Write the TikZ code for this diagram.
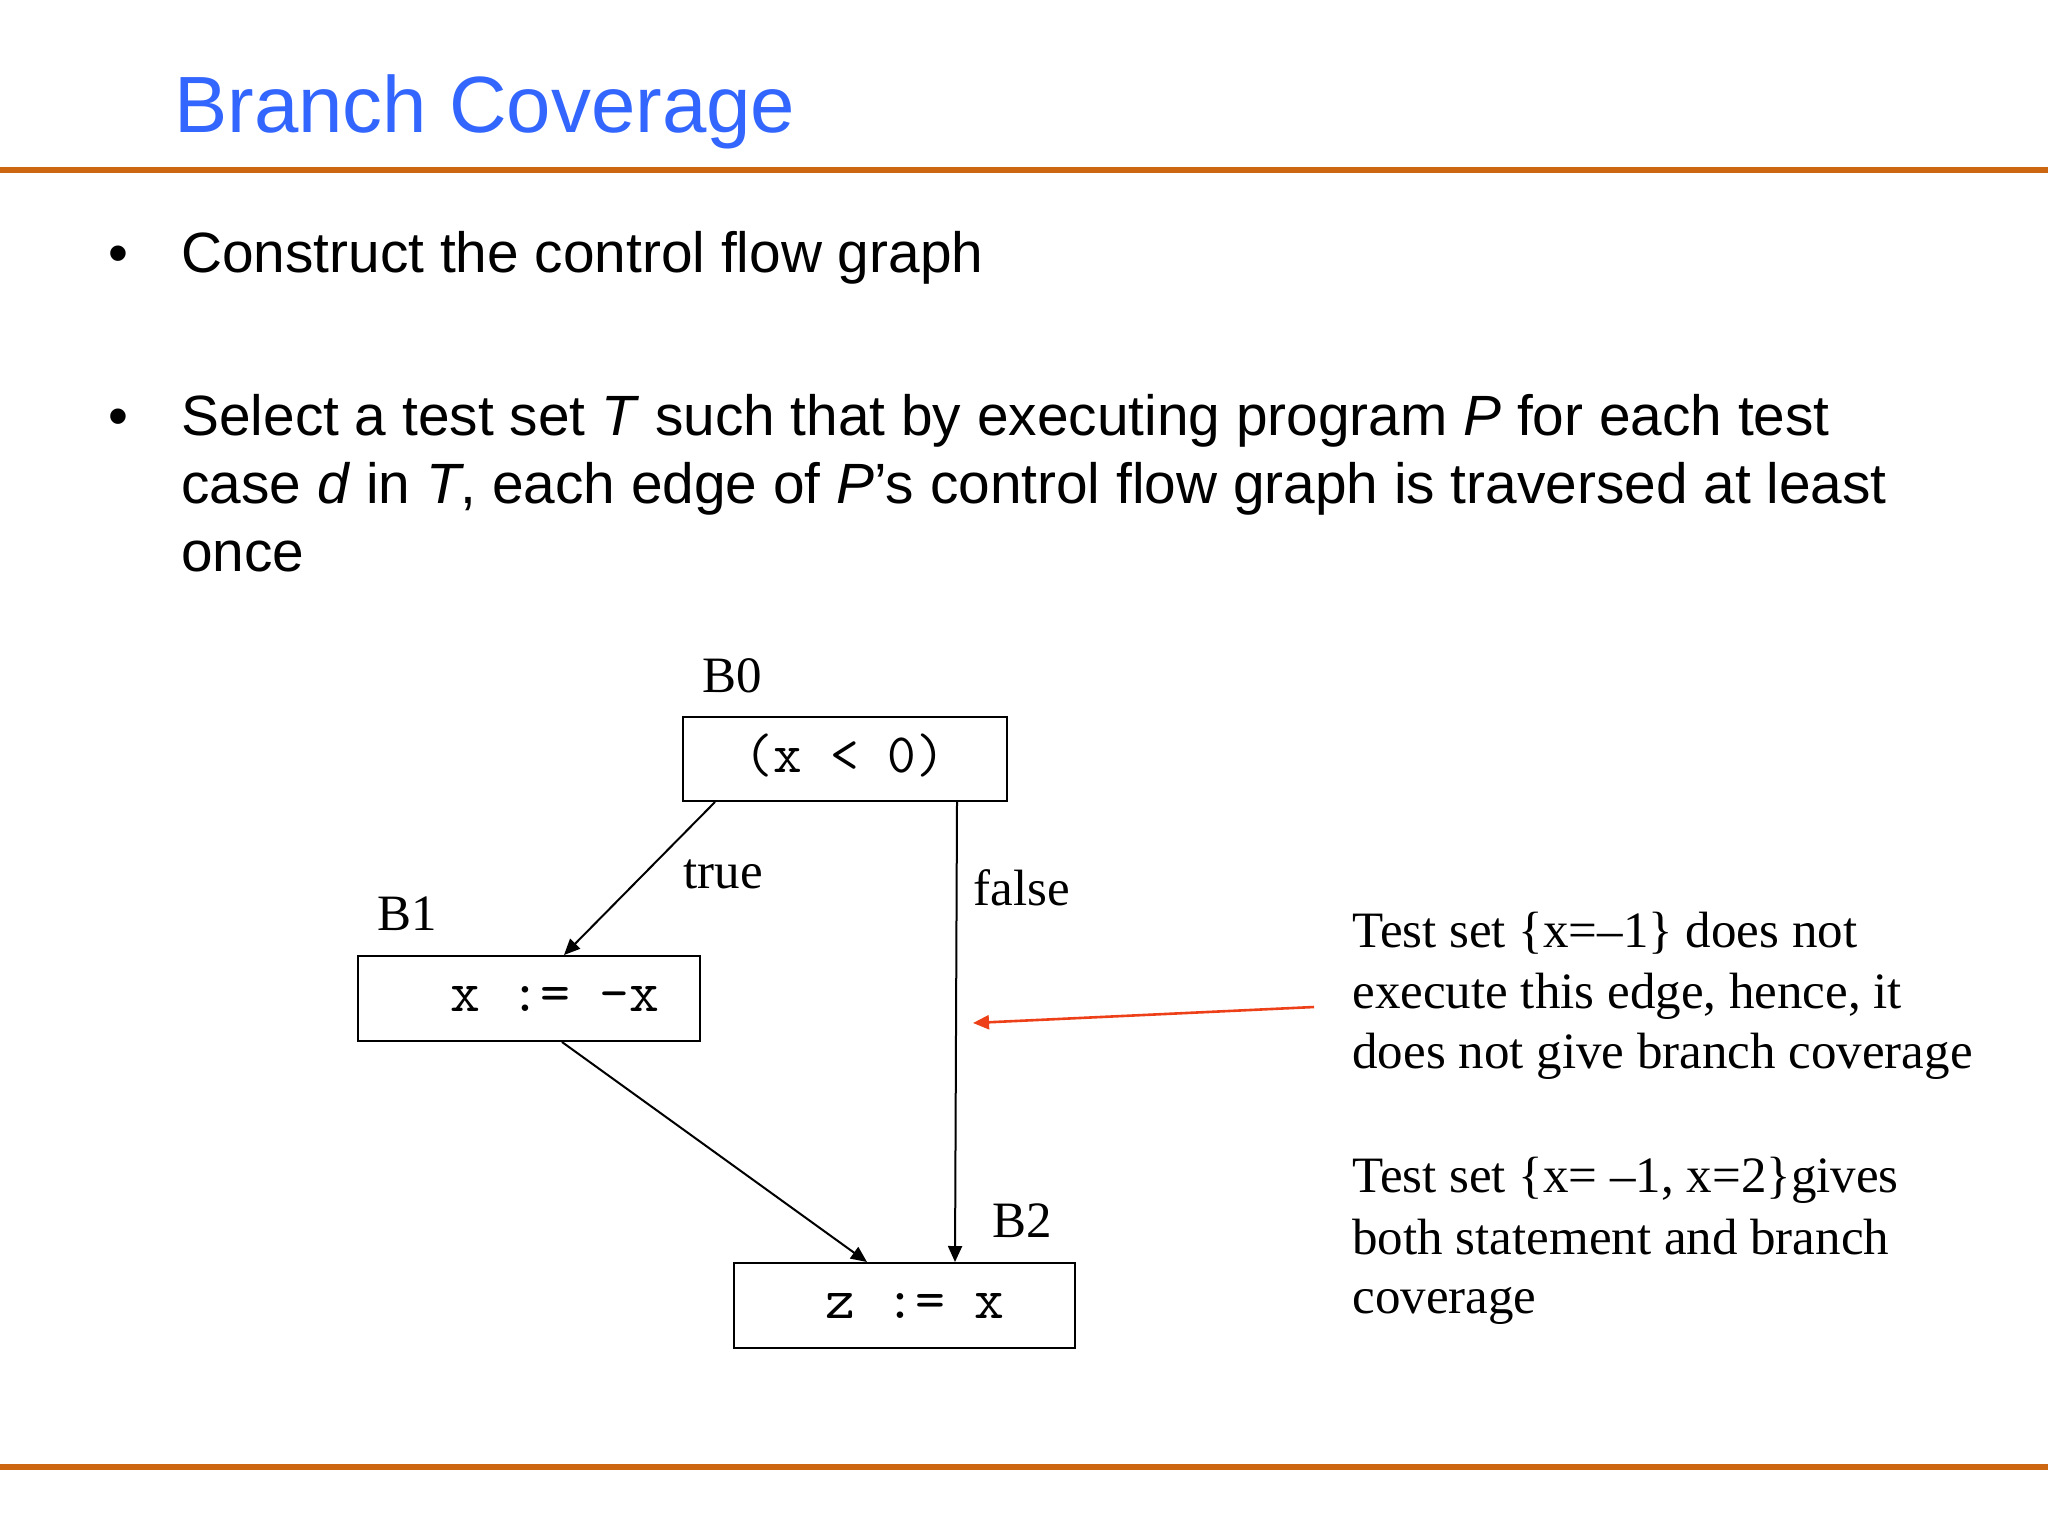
\documentclass[tikz,border=0pt]{standalone}
\usepackage{fontspec}
\setmainfont{Liberation Sans}
\newfontfamily\tmsfont{Liberation Serif}
\usetikzlibrary{arrows.meta,fit,calc}
\definecolor{slideorange}{RGB}{204,102,17}
\definecolor{titleblue}{RGB}{51,102,255}
\definecolor{notered}{RGB}{238,64,24}
\begin{document}
\begin{tikzpicture}[x=0.5pt,y=-0.5pt,
  titletext/.style={anchor=base west, inner sep=0, text=titleblue, font=\fontsize{39.9pt}{47pt}\selectfont},
  bodytext/.style={anchor=base west, inner sep=0, font=\fontsize{28.4pt}{34pt}\selectfont},
  serif/.style={anchor=base west, inner sep=0, font=\tmsfont\fontsize{25.5pt}{30pt}\selectfont},
  code/.style={anchor=base, inner sep=0, font=\ttfamily\fontsize{29pt}{32pt}\selectfont},
  blockbox/.style={draw, line width=1pt, inner sep=0},
  flow/.style={line width=1pt, -{Triangle[length=8pt,width=7pt]}},
  sliderule/.style={line width=2.75pt, slideorange}
]
\useasboundingbox (0,0) rectangle (2048,1536);
\fill[white] (0,0) rectangle (2048,1536);

% title and rules
\node[titletext] (title) at (174,133) {Branch Coverage};
\coordinate (rtl) at (0,170);
\coordinate (rtr) at (2048,170);
\coordinate (rbl) at (0,1467);
\coordinate (rbr) at (2048,1467);
\draw[sliderule] (rtl) -- (rtr);
\draw[sliderule, line width=3pt] (rbl) -- (rbr);

% bullets
\node[bodytext] (bul1) at (108,272) {•};
\node[bodytext] (line1) at (181,272) {Construct the control flow graph};
\node[bodytext] (bul2) at (108,435) {•};
\node[bodytext] (line2) at (181,435) {Select a test set \textit{T} such that by executing program \textit{P} for each test};
\node[bodytext] (line3) at (181,503) {case \textit{d} in \textit{T}, each edge of \textit{P}’s control flow graph is traversed at least};
\node[bodytext] (line4) at (181,571) {once};

% flow graph boxes
\node[blockbox, fit={(683,717) (1007,801)}] (b0) {};
\node[blockbox, fit={(358,956) (700,1041)}] (b1) {};
\node[blockbox, fit={(734,1263) (1075,1348)}] (b2) {};
\node[code, font=\ttfamily\fontsize{27.8pt}{32pt}\selectfont] (b0text) at (845,772) {(x < 0)};
\node[code] (b1text) at (555,1011) {x := -x};
\node[code] (b2text) at (915,1318) {z := x};

% labels
\node[serif] (lb0) at (702,692) {B0};
\node[serif] (lb1) at (377,930) {B1};
\node[serif] (lb2) at (992,1237) {B2};
\node[serif] (ltrue) at (683,888) {true};
\node[serif] (lfalse) at (973,905) {false};

% edges
\draw[flow] ($(b0.south west)+(33,0)$) -- ($(b1.north west)+(207,0)$);
\draw[flow] ($(b0.south east)+(-51,0)$) -- ($(b2.north west)+(222,0)$);
\draw[flow] ($(b1.south west)+(205,0)$) -- ($(b2.north west)+(134,0)$);

% notes
\node[serif] (n1) at (1352,947) {Test set \{x=–1\} does not};
\node[serif] (n2) at (1352,1008) {execute this edge, hence, it};
\node[serif] (n3) at (1352,1068) {does not give branch coverage};
\node[serif] (n4) at (1352,1192) {Test set \{x= –1, x=2\}gives};
\node[serif] (n5) at (1352,1254) {both statement and branch};
\node[serif] (n6) at (1352,1313) {coverage};

\coordinate (notetail) at (1314,1007);
\coordinate (notehead) at (973,1023);
\draw[notered, line width=1.3pt, -{Triangle[length=8pt,width=7pt]}] (notetail) -- (notehead);
\end{tikzpicture}
\end{document}
